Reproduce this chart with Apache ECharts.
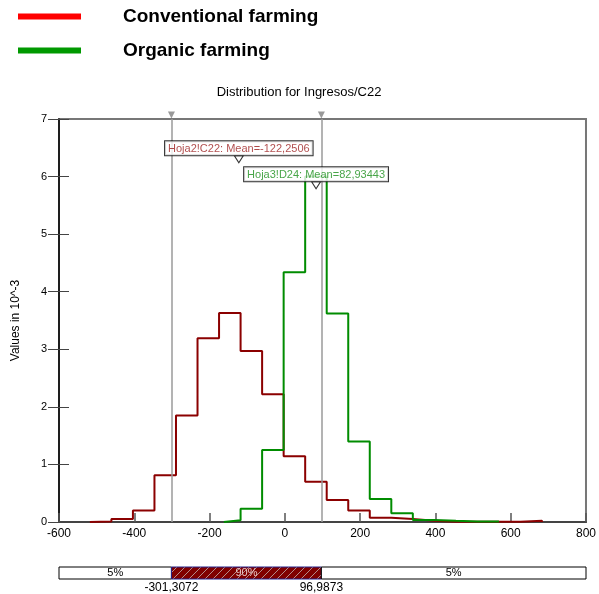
<!DOCTYPE html>
<html>
<head>
<meta charset="utf-8">
<script src="https://cdn.jsdelivr.net/npm/echarts@6/dist/echarts.min.js"></script>
<style>
  html, body { margin: 0; padding: 0; background: #fff; }
  #chart { width: 599px; height: 594px; }
</style>
</head>
<body>
<div id="chart"></div>
<script>
// histogram bin edges shared by both distributions
var binEdges = [-518, -460.8, -403.6, -346.4, -289.2, -232, -174.8, -117.6, -60.4, -3.2, 54,
    111.2, 168.4, 225.6, 282.8, 340, 397.2, 454.4, 511.6, 568.8, 626, 683.2];
// values in 10^-3
var conventionalValues = [0.01, 0.05, 0.2, 0.81, 1.85, 3.19, 3.63, 2.97, 2.22, 1.14, 0.7,
    0.38, 0.2, 0.075, 0.05, 0.02, 0.005, 0.005, 0.005, 0.005, 0.02];
var organicMin = -162;
var organicValues = [0.03, 0.23, 1.25, 4.34, 6.0, 3.62, 1.4, 0.4, 0.15, 0.035, 0.02, 0.01, 0.01];

var conventionalMean = -122.2506;
var organicMean = 82.93443;
var percentile5 = -301.3072;
var percentile95 = 96.9873;

var xTicks = [-600, -400, -200, 0, 200, 400, 600, 800];

function commaNum(v) {
    return String(v).replace('.', ',');
}

// turn bins into a closed step outline
function stepPoints(edges, values) {
    var pts = [[edges[0], 0]];
    values.forEach(function (v, i) {
        pts.push([edges[i], v]);
        pts.push([edges[i + 1], v]);
    });
    pts.push([edges[edges.length - 1], 0]);
    return pts;
}

var organicEdges = [organicMin].concat(binEdges.slice(7, 7 + organicValues.length));

function hatchPattern() {
    var c = document.createElement('canvas');
    c.width = 8; c.height = 8;
    var ctx = c.getContext('2d');
    ctx.fillStyle = '#800000';
    ctx.fillRect(0, 0, 8, 8);
    ctx.strokeStyle = '#b48c8c';
    ctx.lineWidth = 1;
    ctx.beginPath();
    ctx.moveTo(0, 8); ctx.lineTo(8, 0);
    ctx.moveTo(-1, 1); ctx.lineTo(1, -1);
    ctx.moveTo(7, 9); ctx.lineTo(9, 7);
    ctx.stroke();
    return c;
}

var barSegments = [
    [xTicks[0], percentile5, '5%'],
    [percentile5, percentile95, '90%'],
    [percentile95, xTicks[xTicks.length - 1], '5%']
];

var dom = document.getElementById('chart');
var myChart = echarts.init(dom);
var hatch = hatchPattern();

var option = {
    animation: false,
    textStyle: { fontFamily: 'Liberation Sans, Arial, sans-serif' },
    title: {
        text: 'Distribution for Ingresos/C22',
        left: 294,
        textAlign: 'center',
        top: 81,
        textStyle: { fontSize: 13, fontWeight: 'normal', color: '#000' }
    },
    legend: {
        orient: 'vertical',
        left: 18,
        top: 7,
        padding: 0,
        icon: 'rect',
        itemWidth: 63,
        itemHeight: 6,
        itemGap: 15,
        selectedMode: false,
        textStyle: { fontSize: 19, fontWeight: 'bold', color: '#000', padding: [0, 0, 0, 37] },
        data: [
            { name: 'Conventional farming', itemStyle: { color: '#ff0000', borderWidth: 0 } },
            { name: 'Organic farming', itemStyle: { color: '#009900', borderWidth: 0 } }
        ]
    },
    grid: [
        { left: 59, right: 13, top: 119, bottom: 72, show: true, borderColor: '#777', borderWidth: 2 },
        { left: 59, right: 13, top: 567, height: 13 }
    ],
    xAxis: [
        {
            type: 'value', gridIndex: 0, min: -600, max: 800, interval: 200,
            axisLine: { onZero: false, lineStyle: { color: '#444', width: 2 } },
            axisTick: { inside: true, length: 9, lineStyle: { color: '#555', width: 1.5 } },
            axisLabel: { fontSize: 12, color: '#000', margin: 6 },
            splitLine: { show: false }
        },
        {
            type: 'value', gridIndex: 1, min: -600, max: 800,
            axisLine: { show: false, onZero: false },
            axisTick: { show: false },
            splitLine: { show: false },
            axisLabel: {
                fontSize: 12, color: '#000', margin: 3,
                customValues: [percentile5, percentile95],
                formatter: function (v) { return commaNum(v); }
            }
        }
    ],
    yAxis: [
        {
            type: 'value', gridIndex: 0, min: 0, max: 7, interval: 1,
            name: 'Values in 10^-3',
            nameLocation: 'middle',
            nameRotate: 90,
            nameGap: 37,
            nameTextStyle: { fontSize: 12, color: '#000' },
            axisLine: { show: true, onZero: false, lineStyle: { color: '#000', width: 1.5 } },
            axisTick: { length: 11, lineStyle: { color: '#444' } },
            axisLabel: { fontSize: 11, color: '#000', margin: 12 },
            splitLine: { show: false }
        },
        {
            type: 'value', gridIndex: 0, min: 0, max: 7, interval: 1, position: 'left',
            axisLine: { show: false, onZero: false },
            axisTick: { inside: true, length: 10, lineStyle: { color: '#444' } },
            axisLabel: { show: false },
            splitLine: { show: false }
        },
        {
            type: 'value', gridIndex: 1, min: 0, max: 1, show: false
        }
    ],
    series: [
        {
            name: 'Conventional farming',
            type: 'line',
            xAxisIndex: 0, yAxisIndex: 0,
            data: stepPoints(binEdges, conventionalValues),
            showSymbol: false,
            lineStyle: { color: '#8b0000', width: 2 },
            itemStyle: { color: '#8b0000' },
            markLine: {
                silent: true,
                symbol: ['none', 'none'],
                label: { show: false },
                lineStyle: { color: '#9a9a9a', width: 1.5, type: 'solid' },
                data: [{ xAxis: percentile5 }, { xAxis: percentile95 }]
            }
        },
        {
            name: 'Organic farming',
            type: 'line',
            xAxisIndex: 0, yAxisIndex: 0,
            data: stepPoints(organicEdges, organicValues),
            showSymbol: false,
            lineStyle: { color: '#008c00', width: 2 },
            itemStyle: { color: '#008c00' }
        },
        {
            name: 'percentile markers',
            type: 'scatter',
            xAxisIndex: 0, yAxisIndex: 0,
            data: [[percentile5, 7], [percentile95, 7]],
            symbol: 'triangle',
            symbolRotate: 180,
            symbolSize: [7, 7],
            symbolOffset: [0, -4],
            clip: false,
            silent: true,
            itemStyle: { color: '#808080' },
            z: 6
        },
        {
            name: 'means',
            type: 'scatter',
            xAxisIndex: 0, yAxisIndex: 0,
            data: [
                { value: [conventionalMean, 6.3], label: { color: '#9b1c1c', formatter: 'Hoja2!C22: Mean=' + commaNum(conventionalMean) } },
                { value: [organicMean, 5.85], label: { color: '#1a8f1a', formatter: 'Hoja3!D24: Mean=' + commaNum(organicMean) } }
            ],
            symbol: 'triangle',
            symbolRotate: 180,
            symbolSize: [9, 7],
            clip: false,
            silent: true,
            itemStyle: { color: '#fff', borderColor: '#000', borderWidth: 1 },
            label: {
                show: true,
                position: 'top',
                distance: 0,
                fontSize: 11,
                backgroundColor: '#fff',
                borderColor: '#000',
                borderWidth: 1,
                padding: [2, 3, 1, 3]
            },
            z: 8
        },
        {
            name: 'percentile bar',
            type: 'custom',
            xAxisIndex: 1, yAxisIndex: 2,
            data: barSegments,
            silent: true,
            renderItem: function (params, api) {
                var s = api.coord([api.value(0), 1]);
                var e = api.coord([api.value(1), 0]);
                var mid = params.dataIndex === 1;
                return {
                    type: 'group',
                    children: [
                        {
                            type: 'rect',
                            shape: { x: s[0], y: s[1], width: e[0] - s[0], height: e[1] - s[1] },
                            style: {
                                fill: mid ? { image: hatch, repeat: 'repeat' } : '#fff',
                                stroke: mid ? '#24248c' : '#000',
                                lineWidth: 1
                            }
                        },
                        {
                            type: 'text',
                            x: (s[0] + e[0]) / 2,
                            y: (s[1] + e[1]) / 2,
                            style: {
                                text: barSegments[params.dataIndex][2],
                                align: 'center',
                                verticalAlign: 'middle',
                                fontSize: 11,
                                fontFamily: 'Liberation Sans, Arial, sans-serif',
                                fill: mid ? '#e8c8c8' : '#000'
                            }
                        }
                    ]
                };
            }
        }
    ]
};
myChart.setOption(option);
window.addEventListener('resize', function () {
    myChart.resize();
});
</script>
</body>
</html>
